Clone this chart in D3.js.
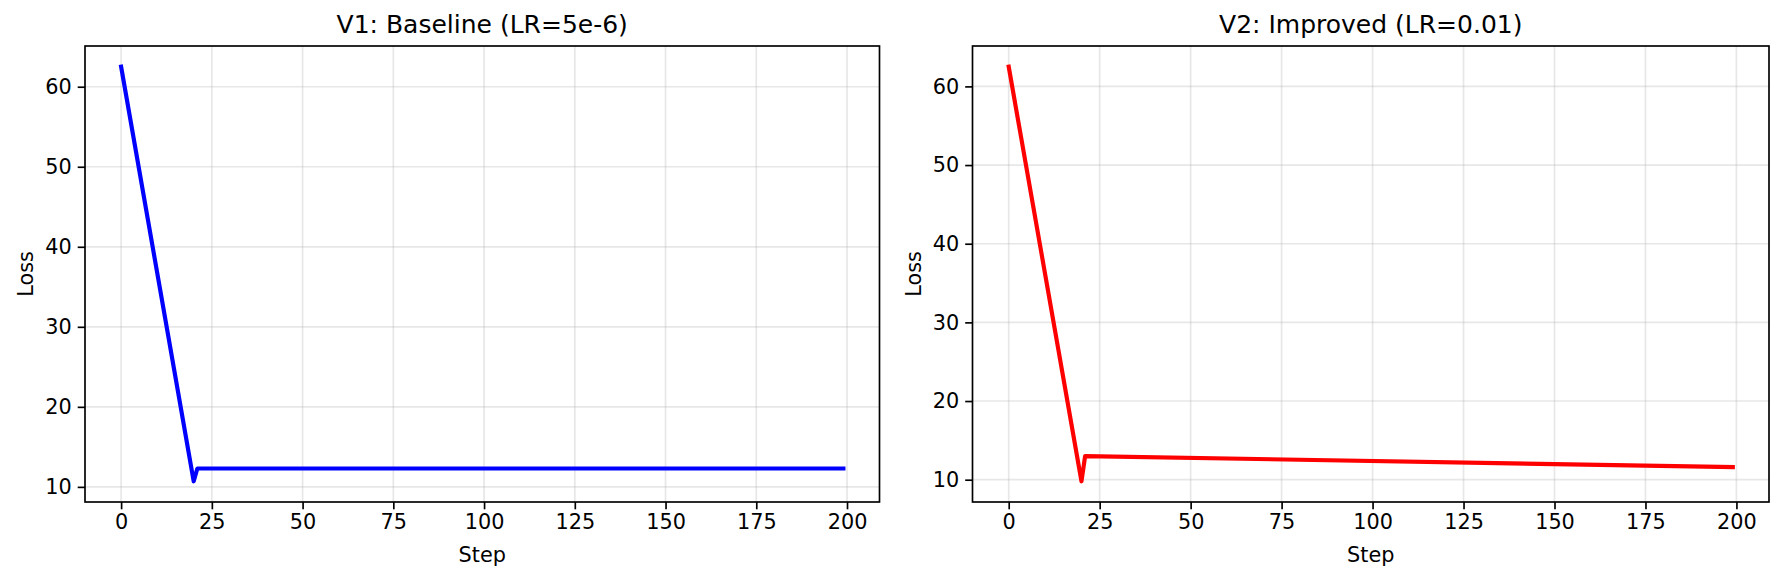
<!DOCTYPE html>
<html>
<head>
<meta charset="utf-8">
<script src="https://cdn.jsdelivr.net/npm/d3@7/dist/d3.min.js"></script>
<style>
  html, body { margin: 0; padding: 0; background: #fff; }
  svg text { font-family: "DejaVu Sans", sans-serif; fill: #000; }
</style>
</head>
<body>
<svg id="chart" width="1784" height="581"></svg>
<script>
// ---- data ----
const titles = ["V1: Baseline (LR=5e-6)", "V2: Improved (LR=0.01)"];
const steps1 = [0, 20, 21, 199];
const loss1 = [62.5, 10.7, 12.3, 12.3];
const steps2 = [0, 20, 21, 199];
const loss2 = [62.5, 9.8, 13.0, 11.6];
const xTicks = [0, 25, 50, 75, 100, 125, 150, 175, 200];
const yTicks = [10, 20, 30, 40, 50, 60];
const colors = ["#0000ff", "#ff0000"];
const xLabel = "Step";
const yLabel = "Loss";

const panels = [
  { title: titles[0], steps: steps1, loss: loss1, color: colors[0], left: 85, right: 879.5 },
  { title: titles[1], steps: steps2, loss: loss2, color: colors[1], left: 972.5, right: 1769 }
];
const plotTop = 46, plotBottom = 502;
const svg = d3.select("#chart");

function padded(ext) {
  const r = ext[1] - ext[0];
  return [ext[0] - 0.05 * r, ext[1] + 0.05 * r];
}

panels.forEach(p => {
  const x = d3.scaleLinear().domain(padded(d3.extent(p.steps))).range([p.left, p.right]);
  const y = d3.scaleLinear().domain(padded(d3.extent(p.loss))).range([plotBottom, plotTop]);
  const g = svg.append("g");

  // grid
  g.append("g").selectAll("line").data(xTicks).join("line")
    .attr("x1", d => x(d)).attr("x2", d => x(d))
    .attr("y1", plotTop).attr("y2", plotBottom)
    .attr("stroke", "#b0b0b0").attr("stroke-opacity", 0.3).attr("stroke-width", 1.67);
  g.append("g").selectAll("line").data(yTicks).join("line")
    .attr("y1", d => y(d)).attr("y2", d => y(d))
    .attr("x1", p.left).attr("x2", p.right)
    .attr("stroke", "#b0b0b0").attr("stroke-opacity", 0.3).attr("stroke-width", 1.67);

  // line
  const pts = p.steps.map((s, i) => [s, p.loss[i]]);
  g.append("path").datum(pts)
    .attr("fill", "none").attr("stroke", p.color).attr("stroke-width", 4.17)
    .attr("stroke-linejoin", "round").attr("stroke-linecap", "square")
    .attr("d", d3.line().x(d => x(d[0])).y(d => y(d[1])));

  // axes
  const xa = g.append("g").attr("transform", `translate(0,${plotBottom})`)
    .call(d3.axisBottom(x).tickValues(xTicks).tickSize(7.3).tickPadding(5).tickFormat(d3.format("d")));
  const ya = g.append("g").attr("transform", `translate(${p.left},0)`)
    .call(d3.axisLeft(y).tickValues(yTicks).tickSize(7.3).tickPadding(6).tickFormat(d3.format("d")));
  [xa, ya].forEach(a => {
    a.select(".domain").remove();
    a.selectAll(".tick line").attr("stroke", "#000").attr("stroke-width", 1.67);
    a.selectAll(".tick text").attr("font-size", "20.8px").attr("font-family", "DejaVu Sans");
  });

  // spines
  g.append("rect").attr("x", p.left).attr("y", plotTop)
    .attr("width", p.right - p.left).attr("height", plotBottom - plotTop)
    .attr("fill", "none").attr("stroke", "#000").attr("stroke-width", 1.67);

  const cx = (p.left + p.right) / 2;
  g.append("text").attr("x", cx).attr("y", 33).attr("text-anchor", "middle")
    .attr("font-size", "25px").text(p.title);
  g.append("text").attr("x", cx).attr("y", 561.5).attr("text-anchor", "middle")
    .attr("font-size", "20.8px").text(xLabel);
  g.append("text").attr("transform", `translate(${p.left - 52},${(plotTop + plotBottom) / 2}) rotate(-90)`)
    .attr("text-anchor", "middle").attr("font-size", "20.8px").text(yLabel);
});
</script>
</body>
</html>
